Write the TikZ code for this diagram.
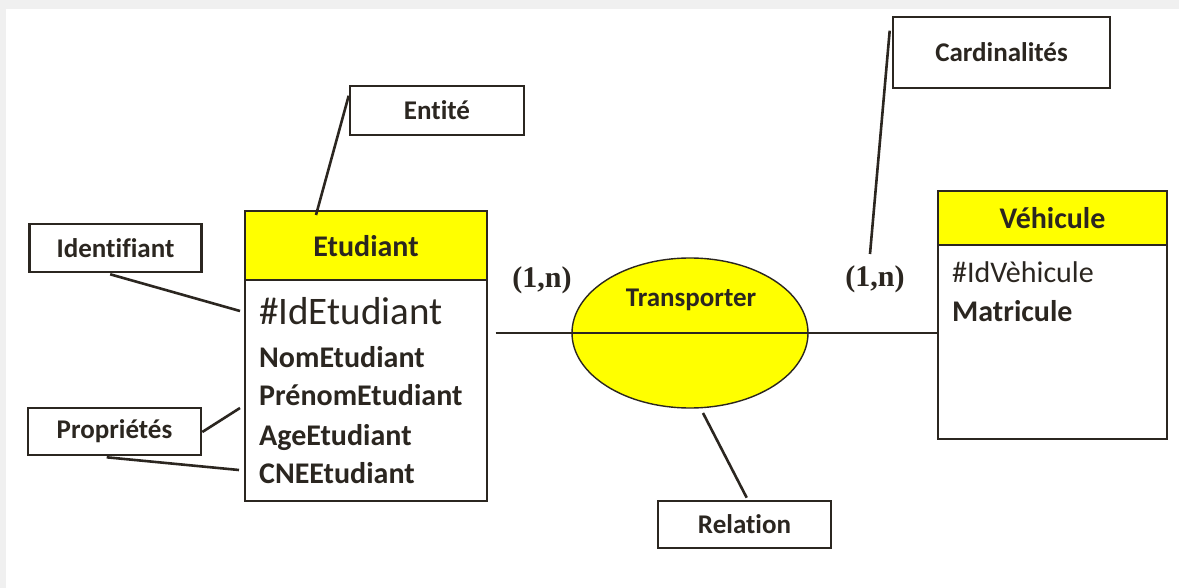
\documentclass[tikz,border=0pt]{standalone}
\usepackage{fontspec}
\setmainfont{Carlito}[Ligatures=CommonOff]
\newfontfamily\timesfont{Liberation Serif}
\usetikzlibrary{shapes.geometric,calc}
\definecolor{ink}{RGB}{43,38,32}
\definecolor{bgray}{RGB}{240,240,240}
\definecolor{yel}{RGB}{255,255,0}
\begin{document}
\begin{tikzpicture}[x=1pt,y=-1pt,
  callout/.style={draw=ink,line width=2.6pt,fill=white,inner sep=0pt,text=ink,
    font=\fontsize{27}{32}\selectfont\bfseries},
  leader/.style={draw=ink,line width=2.6pt},
  entbox/.style={draw=ink,line width=1.4pt,inner sep=0pt},
  enthead/.style={draw=ink,line width=1.4pt,fill=yel,inner sep=0pt},
  title/.style={text=ink,font=\fontsize{30}{35}\selectfont\bfseries},
  attr/.style={text=ink,anchor=base west,inner sep=0pt,font=\fontsize{30}{36}\selectfont\bfseries},
  card/.style={text=ink,font=\timesfont\fontsize{30}{36}\selectfont\bfseries},
  link/.style={draw=ink,line width=1.4pt}]
\useasboundingbox (0,0) rectangle (1179,588);
\fill[bgray] (0,0) rectangle (1179,588);
\fill[white] (6,9) rectangle (1179,588);

% entities
\node[entbox,minimum width=242pt,minimum height=290pt] (etu) at (366,356) {};
\node[enthead,minimum width=242pt,minimum height=69pt] (etuh) at (366,245.5) {};
\node[title] (etut) at (366,246) {Etudiant};
\node[attr,font=\fontsize{39}{44}\selectfont] (a1) at (259,325) {\#IdEtudiant};
\node[attr] (a2) at (259,367) {NomEtudiant};
\node[attr] (a3) at (259,405) {PrénomEtudiant};
\node[attr] (a4) at (259,445) {AgeEtudiant};
\node[attr] (a5) at (259,483) {CNEEtudiant};

\node[entbox,minimum width=229pt,minimum height=248pt] (veh) at (1052.5,315) {};
\node[enthead,minimum width=229pt,minimum height=54pt] (vehh) at (1052.5,218) {};
\node[title] (veht) at (1052.5,218) {Véhicule};
\node[attr,font=\fontsize{30}{36}\selectfont] (b1) at (952,283) {\#IdVèhicule};
\node[attr] (b2) at (952,322) {Matricule};

% relation
\node[draw=ink,line width=1.4pt,fill=yel,ellipse,minimum width=236pt,minimum height=150pt,inner sep=0pt] (rel) at (690,333) {};
\node[text=ink,font=\fontsize{27}{32}\selectfont\bfseries] (relt) at (691,300) {Transporter};
\coordinate (lstart) at ($(etu.east)+(8,0)$);
\draw[link] (lstart |- rel.center) -- (veh.west |- rel.center);

% cardinalities
\node[card] (c1) at (542,280) {(1,n)};
\node[card] (c2) at (875,279) {(1,n)};

% callouts
\node[callout,minimum width=174pt,minimum height=49pt] (entite) at (437,110.5) {Entité};
\node[callout,minimum width=217pt,minimum height=71pt] (cardl) at (1001.5,52.5) {Cardinalités};
\node[callout,minimum width=172pt,minimum height=48pt] (ident) at (115.5,248) {Identifiant};
\node[callout,minimum width=173pt,minimum height=47pt] (prop) at (114.5,431.5) {Propriétés};
\node[callout,minimum width=173pt,minimum height=47pt] (relat) at (744.5,524.5) {Relation};

% leaders
\coordinate (pEnt) at (316,215);
\coordinate (pCard) at (870,254);
\coordinate (pId) at (240,311);
\coordinate (pP1) at (240,408);
\coordinate (pP2) at (239,470);
\coordinate (pRel) at (703,413);
\draw[leader] ($(entite.north west)+(0,11)$) -- (pEnt);
\draw[leader] ($(cardl.north west)+(-2,15)$) -- (pCard);
\draw[leader] ($(ident.south west)+(82,1)$) -- (pId);
\draw[leader] ($(prop.east)+(0,0.5)$) -- (pP1);
\draw[leader] ($(prop.south west)+(80,1)$) -- (pP2);
\draw[leader] ($(relat.north west)+(90,-2)$) -- (pRel);
\end{tikzpicture}
\end{document}
